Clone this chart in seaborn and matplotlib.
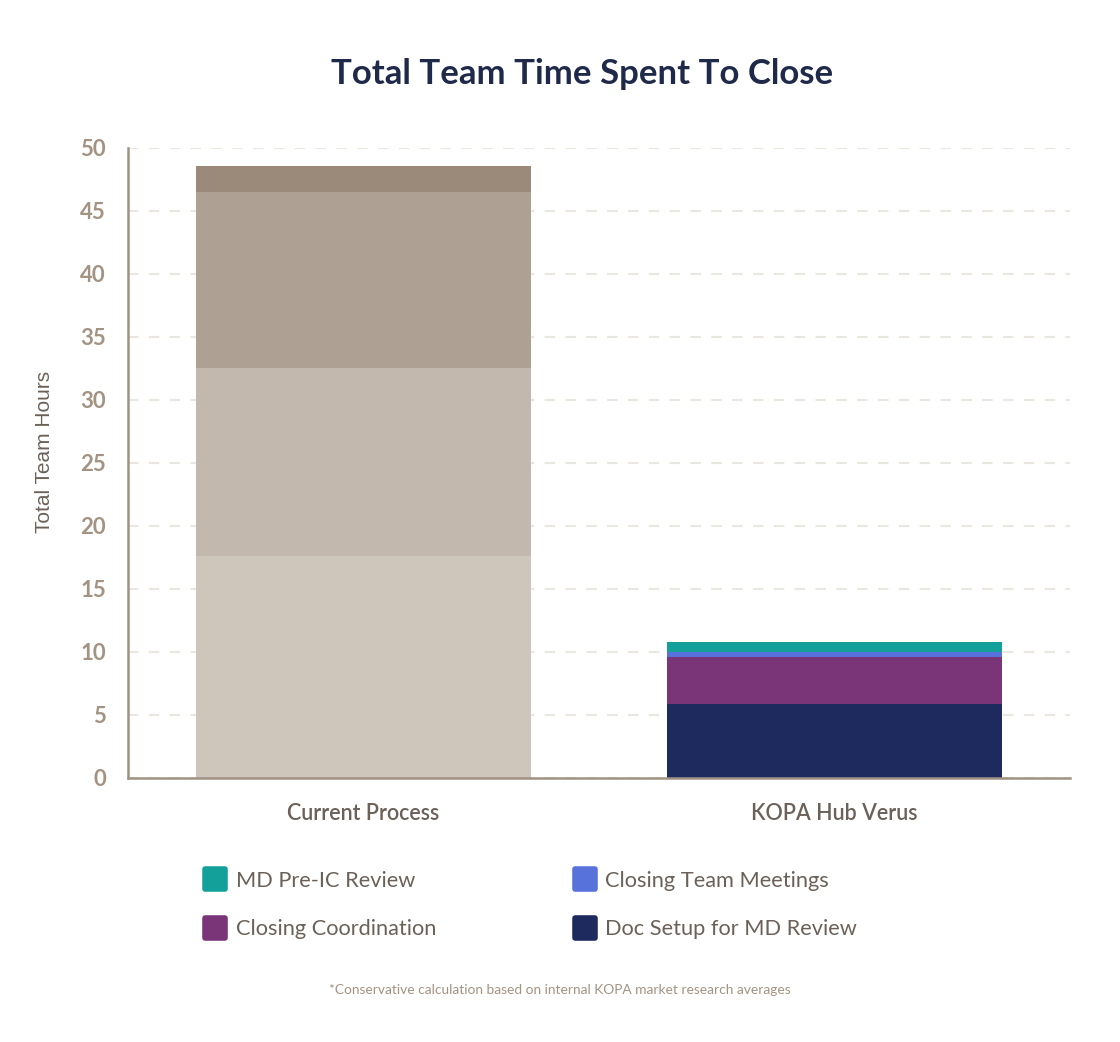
import pandas as pd
import matplotlib.pyplot as plt
import seaborn as sns
from matplotlib.lines import Line2D
from matplotlib.markers import MarkerStyle

# Data (hours)
processes = ["Current Process", "KOPA Hub Verus"]
segments = ["Doc Setup for MD Review", "Closing Coordination",
            "Closing Team Meetings", "MD Pre-IC Review"]
doc_setup = [17.6, 5.9]
coordination = [14.9, 3.7]
meetings = [14.0, 0.4]
md_review = [2.1, 0.8]

# colours per segment: [current process shade, kopa colour]
seg_colors = {
    "Doc Setup for MD Review": ["#CEC5BB", "#1E2A5E"],
    "Closing Coordination": ["#C3B8AD", "#7A3478"],
    "Closing Team Meetings": ["#AEA093", "#5872DB"],
    "MD Pre-IC Review": ["#9B8A7A", "#13A09A"],
}

df = pd.DataFrame({"process": processes,
                   "Doc Setup for MD Review": doc_setup,
                   "Closing Coordination": coordination,
                   "Closing Team Meetings": meetings,
                   "MD Pre-IC Review": md_review})
# cumulative tops for stacking
cum = df[segments].cumsum(axis=1)
cum["process"] = df["process"]

sns.set_theme(style="white")
plt.rcParams["font.family"] = ["Lato", "DejaVu Sans"]

fig = plt.figure(figsize=(11.2, 10.42), dpi=100)
ax = fig.add_axes([0.1143, 0.2534, 0.8411, 0.6046])

# draw from tallest layer down so smaller ones sit on top
for seg in reversed(segments):
    sns.barplot(data=cum, x="process", y=seg, hue="process",
                palette=seg_colors[seg], width=0.71, saturation=1,
                legend=False, ax=ax, zorder=2, linewidth=0, edgecolor="none")

ax.set_ylim(0, 50)
ax.set_xlim(-0.5, 1.5)
ax.set_yticks(range(0, 51, 5))
ax.yaxis.grid(True, color="#EAE6E0", linestyle=(0, (5, 5)), linewidth=1.5)
ax.set_axisbelow(True)
for s in ["top", "right"]:
    ax.spines[s].set_visible(False)
for s in ["left", "bottom"]:
    ax.spines[s].set_color("#A09282")
    ax.spines[s].set_linewidth(1.8)
    ax.spines[s].set_zorder(3)
ax.tick_params(axis="y", length=0, pad=16, labelsize=16, labelcolor="#A39382")
ax.tick_params(axis="x", length=0, pad=18, labelsize=15.5, labelcolor="#6B6158")
for lab in ax.get_yticklabels():
    lab.set_fontweight("bold")
for lab in ax.get_xticklabels():
    lab.set_fontweight("semibold")
ax.set_xlabel("")
ax.set_ylabel("Total Team Hours", fontsize=15, color="#6B6158",
              family=["Liberation Sans", "DejaVu Sans"])
ax.yaxis.set_label_coords(-0.079, 0.517)

fig.text(0.52, 0.929, "Total Team Time Spent To Close", ha="center", va="center",
         fontsize=25, fontweight="bold", color="#1F2A4A")

# legend (order fills columns first)
order = ["MD Pre-IC Review", "Closing Coordination",
         "Closing Team Meetings", "Doc Setup for MD Review"]
mk = MarkerStyle("s", joinstyle="round")
handles = [Line2D([], [], linestyle="none", marker=mk, markersize=14,
                  markerfacecolor=seg_colors[n][1], markeredgecolor=seg_colors[n][1],
                  markeredgewidth=4) for n in order]
fig.legend(handles, order, loc="upper left", bbox_to_anchor=(0.165, 0.183),
           ncol=2, frameon=False, fontsize=15.7, labelcolor="#6B6158",
           handlelength=1.0, handletextpad=0.45, columnspacing=6.3,
           labelspacing=1.3)

fig.text(0.5, 0.05, "*Conservative calculation based on internal KOPA market research averages",
         ha="center", va="center", fontsize=9.9, color="#A39382")

fig.savefig("out.png", dpi=100, facecolor="white")
